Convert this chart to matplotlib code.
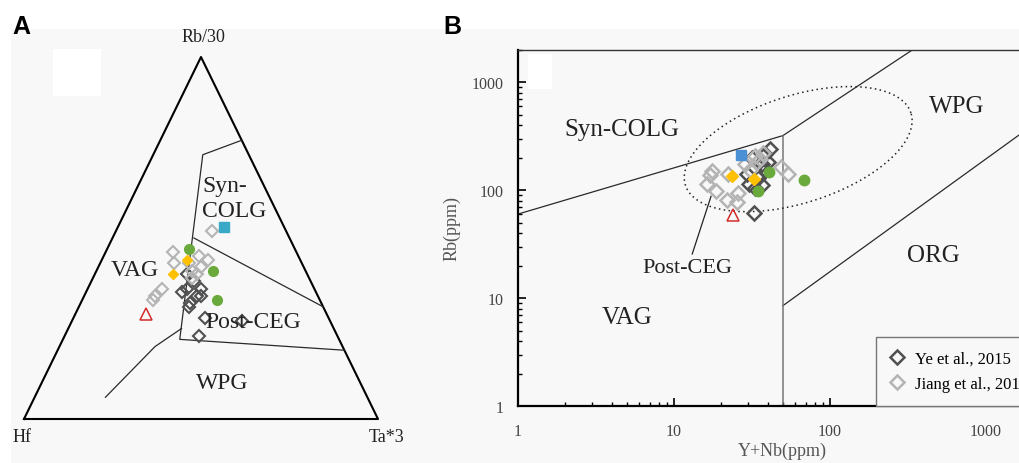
import numpy as np
import matplotlib
matplotlib.use("Agg")
import matplotlib.pyplot as plt
from matplotlib.lines import Line2D
from matplotlib.patches import Rectangle

plt.rcParams["font.family"] = ["Liberation Serif", "DejaVu Serif"]

# ── ternary data: (Rb/30, Hf, Ta*3) in percent ──────────────────────────────
tern_ye = [(40, 34, 26), (35, 38, 27), (36, 36, 28), (38, 33, 29), (36, 32, 32),
           (34, 34, 32), (32, 37, 31), (31, 38, 31), (28, 35, 37), (27, 25, 48),
           (23, 39, 38), (34, 33, 33)]
tern_jiang = [(52, 21, 27), (46, 35, 19), (45, 28, 27), (43, 36, 21), (44, 26, 30),
              (42, 29, 29), (40, 31, 29), (41, 32, 27), (36, 43, 21), (34, 46, 20),
              (33, 47, 20), (39, 33, 28), (43, 32, 25)]
tern_green = [(47, 30, 23), (41, 26, 33), (33, 29, 38)]
tern_yellow = [(44, 32, 24), (40, 38, 22)]
tern_blue = [(53, 17, 30)]
tern_red = [(29, 51, 20)]

# field boundaries (Harris et al., 1986)
tern_syn = [(77, 0, 23), (73, 13, 14), (22, 45, 33), (19, 0, 81)]
tern_post = [(50, 27, 23), (31, 0, 69)]
tern_wpg = [(25, 43, 32), (20, 53, 27), (6, 74, 20)]

# ── Rb vs Y+Nb data (ppm) ────────────────────────────────────────────────────
ye_ynb = [32.4, 30.5, 29.4, 38.5, 36.6, 38.5, 40.2, 34.7, 36.8, 33.2, 31.8, 41.4]
ye_rb = [61.5, 114.8, 141.9, 216.8, 175.4, 152.1, 180.3, 128.5, 110.7, 103.9, 200.4, 242.6]
jiang_ynb = [17.5, 17.1, 16.3, 18.6, 22.1, 21.9, 25.9, 25.3, 48.5, 54.3,
             33.2, 37.5, 28.6, 30.8, 34.0, 35.7]
jiang_rb = [150, 136.9, 114.8, 98.2, 141.9, 80.5, 94, 77.7, 163.2, 141.9,
            209, 219.6, 175.4, 152.1, 181.4, 196]
green_ynb = [40.8, 34.7, 68.4]
green_rb = [146.8, 97.5, 124.9]
yellow_ynb = [23.7, 32.7]
yellow_rb = [134, 126]
blue_ynb = [26.9]
blue_rb = [213.6]
red_ynb = [24.1]
red_rb = [58.6]

# Pearce et al. (1984) boundaries
syn_vag_x, syn_vag_y = [1, 50], [60, 320]
syn_wpg_x, syn_wpg_y = [50, 340], [320, 2000]
vag_wpg_x, vag_wpg_y = [50, 50], [1, 320]
wpg_org_x, wpg_org_y = [50, 2000], [8.5, 400]

C_DARK = "#505050"
C_LIGHT = "#b4b4b4"
C_GREEN = "#6aaa3c"
C_YELLOW = "#ffc000"
C_RED = "#d42a2a"


def tern_xy(pts):
    a = np.array(pts, float)
    a = a / a.sum(axis=1, keepdims=True)
    rb, hf, ta = a[:, 0], a[:, 1], a[:, 2]
    return ta + rb / 2, rb


fig = plt.figure(figsize=(10.19, 4.64), dpi=100)
fig.add_artist(Rectangle((11 / 1019, 0), 1, (464 - 30) / 464, transform=fig.transFigure,
                         facecolor="#f8f8f8", edgecolor="none", zorder=-5))
for r in [(53, 50, 48, 47), (528, 55, 24, 35)]:
    fig.add_artist(Rectangle((r[0] / 1019, (464 - r[1] - r[3]) / 464), r[2] / 1019, r[3] / 464,
                             transform=fig.transFigure, facecolor="white",
                             edgecolor="none", zorder=-4))

# ── A: ternary ───────────────────────────────────────────────────────────────
axA = fig.add_axes([24 / 1019, 44 / 464, 354 / 1019, 362 / 464])
axA.set_xlim(0, 1); axA.set_ylim(0, 1)
axA.axis("off"); axA.patch.set_visible(False)
axA.plot([0, 0.5, 1, 0], [0, 1, 0, 0], color="black", lw=1.5, clip_on=False)
for b in (tern_syn, tern_post, tern_wpg):
    x, y = tern_xy(b)
    axA.plot(x, y, color="#2a2a2a", lw=0.9)

x, y = tern_xy(tern_ye)
axA.plot(x, y, "D", ms=6, mfc="none", mec=C_DARK, mew=1.5, ls="none")
x, y = tern_xy(tern_jiang)
axA.plot(x, y, "D", ms=6, mfc="none", mec=C_LIGHT, mew=1.5, ls="none")
x, y = tern_xy(tern_yellow)
axA.plot(x, y, "D", ms=5, mfc=C_YELLOW, mec=C_YELLOW, ls="none")
x, y = tern_xy(tern_green)
axA.plot(x, y, "o", ms=7, mfc=C_GREEN, mec=C_GREEN, ls="none")
x, y = tern_xy(tern_blue)
axA.plot(x, y, "s", ms=7, mfc="#3aa9c8", mec="#3aa9c8", ls="none")
x, y = tern_xy(tern_red)
axA.plot(x, y, "^", ms=8, mfc="none", mec=C_RED, mew=1.1, ls="none")

tk = dict(fontsize=13, color="#222222", ha="center", va="center")
axA.text(0.506, 1.058, "Rb/30", **tk)
axA.text(-0.006, -0.047, "Hf", **tk)
axA.text(1.025, -0.047, "Ta*3", **tk)
fk = dict(fontsize=17, color="#222222", va="center")
axA.text(0.503, 0.644, "Syn-", ha="left", **fk)
axA.text(0.503, 0.577, "COLG", ha="left", **fk)
axA.text(0.314, 0.412, "VAG", ha="center", **fk)
axA.text(0.647, 0.268, "Post-CEG", ha="center", **fk)
axA.text(0.559, 0.102, "WPG", ha="center", **fk)

# ── B: Rb vs Y+Nb ────────────────────────────────────────────────────────────
axB = fig.add_axes([518 / 1019, 57 / 464, 514.7 / 1019, 356.3 / 464])
axB.patch.set_visible(False)
axB.set_xscale("log"); axB.set_yscale("log")
axB.set_xlim(1, 2000); axB.set_ylim(1, 2000)
for s in ("bottom", "left"):
    axB.spines[s].set_linewidth(1.6)
axB.spines["top"].set_linewidth(1.0)
axB.spines["top"].set_color("#333333")
axB.spines["right"].set_visible(False)
axB.tick_params(which="both", direction="in", top=False, right=False,
                labelsize=11.5, labelcolor="#444444")
axB.tick_params(axis="x", pad=12)
axB.tick_params(axis="y", pad=10)
axB.tick_params(which="major", length=6, width=1.2)
axB.tick_params(which="minor", length=3, width=1.0)
axB.set_xticks([1, 10, 100, 1000], ["1", "10", "100", "1000"])
axB.set_yticks([1, 10, 100, 1000], ["1", "10", "100", "1000"])
axB.set_xlabel("Y+Nb(ppm)", fontsize=13, color="#555555")
axB.xaxis.set_label_coords(0.513, -0.1)
axB.set_ylabel("Rb(ppm)", fontsize=13, color="#555555", labelpad=8)

for bx, by in [(syn_vag_x, syn_vag_y), (syn_wpg_x, syn_wpg_y),
               (wpg_org_x, wpg_org_y)]:
    axB.plot(bx, by, color="#2a2a2a", lw=0.9)
axB.plot(vag_wpg_x, vag_wpg_y, color="#777777", lw=1.1)

# post-collisional field, an ellipse in log space
t = np.linspace(0, 2 * np.pi, 200)
lx = 1.797 + 0.723 * np.cos(t) - 0.106 * np.sin(t)
ly = 2.380 + 0.335 * np.cos(t) + 0.473 * np.sin(t)
axB.plot(10 ** lx, 10 ** ly, color="#222222", lw=1.1, ls=(0, (1, 2.2)))
axB.plot([17.3, 13.1], [87.7, 25.6], color="#222222", lw=0.9)

axB.plot(ye_ynb, ye_rb, "D", ms=7.5, mfc="none", mec=C_DARK, mew=1.8, ls="none")
axB.plot(jiang_ynb, jiang_rb, "D", ms=7.5, mfc="none", mec=C_LIGHT, mew=1.8, ls="none")
axB.plot(yellow_ynb, yellow_rb, "D", ms=6, mfc=C_YELLOW, mec=C_YELLOW, ls="none")
axB.plot(green_ynb, green_rb, "o", ms=7.5, mfc=C_GREEN, mec=C_GREEN, ls="none")
axB.plot(blue_ynb, blue_rb, "s", ms=7, mfc="#4a90d4", mec="#4a90d4", ls="none")
axB.plot(red_ynb, red_rb, "^", ms=8, mfc="none", mec=C_RED, mew=1.1, ls="none")

fk = dict(fontsize=18, color="#222222", ha="center", va="center")
axB.text(4.66, 370, "Syn-COLG", **fk)
axB.text(655, 604, "WPG", **fk)
axB.text(459, 25.1, "ORG", **fk)
axB.text(5.02, 6.74, "VAG", **fk)
axB.text(12.2, 19.05, "Post-CEG", fontsize=16, color="#222222", ha="center", va="center")

handles = [Line2D([], [], marker="D", ls="none", ms=7, mfc="none", mec=C_DARK, mew=1.8),
           Line2D([], [], marker="D", ls="none", ms=7, mfc="none", mec=C_LIGHT, mew=1.8)]
leg = axB.legend(handles, ["Ye et al., 2015", "Jiang et al., 2017"], loc="lower left",
                 bbox_to_anchor=(0.696, 0.0), borderaxespad=0, fancybox=False,
                 framealpha=1, facecolor="#f8f8f8", edgecolor="#777777", fontsize=12,
                 handletextpad=0.7, handlelength=0.8, borderpad=0.85, labelspacing=0.55)
leg.get_frame().set_linewidth(1.0)

fig.text(21 / 1019, 1 - 27 / 464, "A", fontsize=18, fontweight="bold",
         family="Liberation Sans", ha="center", va="center")
fig.text(452 / 1019, 1 - 27 / 464, "B", fontsize=18, fontweight="bold",
         family="Liberation Sans", ha="center", va="center")

fig.savefig("out.png", dpi=100)
